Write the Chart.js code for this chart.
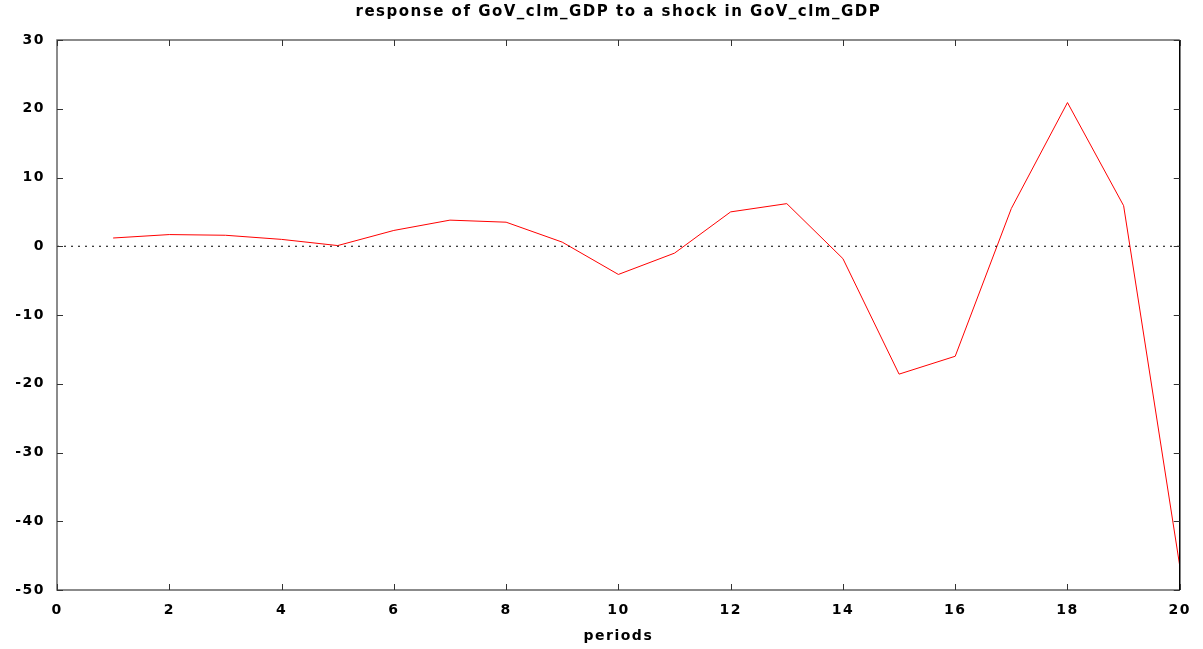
<!DOCTYPE html>
<html>
<head>
<meta charset="utf-8">
<script src="https://cdn.jsdelivr.net/npm/chart.js@4"></script>
<style>
  html, body { margin: 0; padding: 0; background: #fff; }
  #wrap { width: 1203px; height: 649px; }
</style>
</head>
<body>
<div id="wrap"><canvas id="irfCanvas" width="1203" height="649"></canvas></div>
<script>
// impulse response
const periods = [1, 2, 3, 4, 5, 6, 7, 8, 9, 10, 11, 12, 13, 14, 15, 16, 17, 18, 19, 20];
const response = [1.2, 1.7, 1.6, 1.0, 0.1, 2.3, 3.8, 3.5, 0.6, -4.1, -1.0, 5.0, 6.2, -1.8, -18.6, -16.0, 5.5, 20.9, 5.9, -46.5];
const zeroX = [0, 20];
const zeroY = [0, 0];
const xTicks = [0, 2, 4, 6, 8, 10, 12, 14, 16, 18, 20];
const yTicks = [-50, -40, -30, -20, -10, 0, 10, 20, 30];

const FONT = "'DejaVu Sans', sans-serif";

// the original text is wide, spread the letters a bit
const spacingPlugin = {
    id: 'spacing',
    beforeUpdate(chart) { chart.ctx.letterSpacing = '1.5px'; },
    beforeDraw(chart) { chart.ctx.letterSpacing = '1.5px'; }
};

// frame + inward ticks like gnuplot
const framePlugin = {
    id: 'frame',
    afterDatasetsDraw(chart) {
        const ctx = chart.ctx;
        const a = chart.chartArea;
        const xs = chart.scales.x, ys = chart.scales.y;
        ctx.save();
        ctx.lineWidth = 1.5;
        ctx.strokeStyle = '#666';
        ctx.beginPath();
        ctx.moveTo(a.right, a.top);
        ctx.lineTo(a.left, a.top);
        ctx.lineTo(a.left, a.bottom);
        ctx.lineTo(a.right, a.bottom);
        ctx.stroke();
        ctx.strokeStyle = '#000';
        ctx.beginPath();
        ctx.moveTo(a.right, a.top);
        ctx.lineTo(a.right, a.bottom);
        ctx.stroke();
        ctx.lineWidth = 1;
        ctx.strokeStyle = '#333';
        ctx.beginPath();
        xTicks.forEach(v => {
            const px = Math.round(xs.getPixelForValue(v)) + 0.5;
            ctx.moveTo(px, a.bottom); ctx.lineTo(px, a.bottom - 6);
            ctx.moveTo(px, a.top); ctx.lineTo(px, a.top + 6);
        });
        yTicks.forEach(v => {
            const py = Math.round(ys.getPixelForValue(v)) + 0.5;
            ctx.moveTo(a.left, py); ctx.lineTo(a.left + 6, py);
            ctx.moveTo(a.right, py); ctx.lineTo(a.right - 6, py);
        });
        ctx.stroke();
        ctx.restore();
    }
};

new Chart(document.getElementById("irfCanvas").getContext("2d"), {
    type: 'scatter',
    data: {
        datasets: [
            {
                label: 'zero',
                data: zeroX.map((x, i) => ({x: x, y: zeroY[i]})),
                showLine: true,
                borderColor: '#000',
                borderWidth: 1,
                borderDash: [2, 5],
                pointRadius: 0
            },
            {
                label: 'response',
                data: periods.map((p, i) => ({x: p, y: response[i]})),
                showLine: true,
                borderColor: '#ff0000',
                borderWidth: 1,
                pointRadius: 0,
                tension: 0
            }
        ]
    },
    options: {
        responsive: false,
        animation: false,
        layout: { padding: { top: 0, right: 22, left: 0, bottom: 0 } },
        plugins: {
            legend: { display: false },
            tooltip: { enabled: false },
            title: {
                display: true,
                fullSize: false, // centre over the plot, not the canvas
                text: 'response of GoV_clm_GDP to a shock in GoV_clm_GDP',
                color: '#000',
                font: { family: FONT, size: 15, weight: 'bold', lineHeight: 1.2 },
                padding: { top: 3, bottom: 19 }
            }
        },
        scales: {
            x: {
                type: 'linear',
                min: 0,
                max: 20,
                grid: { display: false, drawTicks: false },
                border: { display: false },
                afterFit: s => { s.height = 59; },
                afterBuildTicks: s => { s.ticks = xTicks.map(v => ({value: v})); },
                ticks: {
                    color: '#000',
                    padding: 12,
                    maxRotation: 0,
                    font: { family: FONT, size: 14, weight: 'bold' }
                },
                title: {
                    display: true,
                    text: 'periods',
                    color: '#000',
                    padding: { top: 8, bottom: 4 },
                    font: { family: FONT, size: 14, weight: 'bold' }
                }
            },
            y: {
                type: 'linear',
                min: -50,
                max: 30,
                grid: { display: false, drawTicks: false },
                border: { display: false },
                afterFit: s => { s.width = 57; },
                afterBuildTicks: s => { s.ticks = yTicks.map(v => ({value: v})); },
                ticks: {
                    color: '#000',
                    padding: 12,
                    font: { family: FONT, size: 14, weight: 'bold' }
                }
            }
        }
    },
    plugins: [spacingPlugin, framePlugin]
});
</script>
</body>
</html>
